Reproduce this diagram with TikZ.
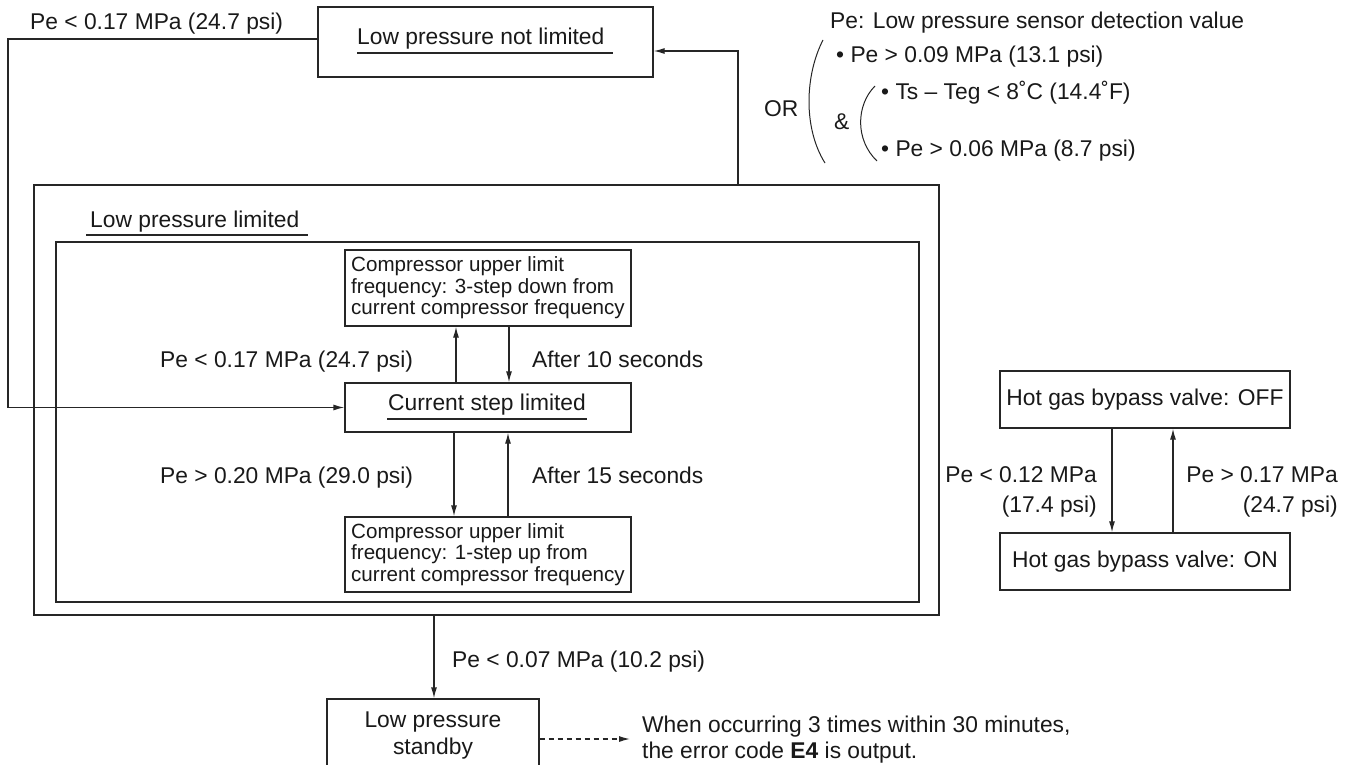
\documentclass[tikz,border=0pt]{standalone}
\usepackage{fontspec}
\setmainfont{Liberation Sans}
\usetikzlibrary{arrows.meta,calc}
\newcommand\szA{\fontsize{22.8}{27}\selectfont}
\newcommand\szB{\fontsize{20.6}{21.5}\selectfont}
\newcommand\szE{\fontsize{22.8}{26}\selectfont}
\newcommand\szF{\fontsize{22.8}{30}\selectfont}
\begin{document}
\begin{tikzpicture}[x=1pt,y=-1pt,
  lw/.style={line width=1.3pt, draw=black!85},
  box/.style={lw, rectangle, inner sep=0pt, text=black!90},
  txt/.style={inner sep=0pt, font=\szA, text=black!90},
  arr/.style={lw, -{Latex[length=11pt,width=6pt]}},
  ul/.style={line width=1.2pt, draw=black!85},
  brk/.style={line width=1pt, draw=black!85},
]
\useasboundingbox (0,0) rectangle (1355,765);
\clip (0,0) rectangle (1355,765);

% boxes
\node[box, minimum width=335pt, minimum height=70pt] (nl) at (485.5,42) {};
\node[txt, anchor=base west] (nlt) at (357,45) {Low pressure not limited};
\draw[ul] ($(nlt.base west)+(0,8)$) -- ($(nlt.base east)+(8,8)$);

\node[box, minimum width=905pt, minimum height=430pt] (outer) at (486.5,400) {};
\node[box, minimum width=863pt, minimum height=360pt] (inner) at (487.5,422) {};
\node[txt, anchor=base west] (lplt) at (90,227) {Low pressure limited};
\draw[ul] ($(lplt.base west)+(-4,8)$) -- ($(lplt.base east)+(9,8)$);

\node[box, minimum width=286pt, minimum height=76pt, align=left, font=\szB] (top) at (488,288)
  {Compressor upper limit\\frequency: 3-step down from\\current compressor frequency};
\node[box, minimum width=286pt, minimum height=49pt] (cur) at (488,407.5) {};
\node[txt, anchor=base west] (curt) at (388,410) {Current step limited};
\draw[ul] ($(curt.base west)+(-1,9)$) -- ($(curt.base east)+(1,9)$);
\node[box, minimum width=286pt, minimum height=75pt, align=left, font=\szB] (bot) at (488,554.5)
  {Compressor upper limit\\frequency: 1-step up from\\current compressor frequency};

\node[box, minimum width=290pt, minimum height=57pt, font=\szA] (off) at (1145,399.5) {Hot gas bypass valve: OFF};
\node[box, minimum width=290pt, minimum height=57pt, font=\szA] (on) at (1145,561.5) {Hot gas bypass valve: ON};

\node[box, minimum width=212pt, minimum height=73pt, align=center, font=\szA] (sb) at (433,735.5) {Low pressure\\standby};

% connector x positions
\coordinate (xa) at (456,0);
\coordinate (xb) at (509,0);
\coordinate (xc) at (454,0);
\coordinate (xd) at (508,0);
\coordinate (xe) at (434,0);
\coordinate (xf) at (738,0);
\coordinate (xg) at (1112,0);
\coordinate (xh) at (1173,0);
\coordinate (lp) at (8,407.5);
\coordinate (de) at (630,739);

% connectors
\draw[arr] (cur.north -| xa) -- (top.south -| xa);
\draw[arr] (top.south -| xb) -- (cur.north -| xb);
\draw[arr] (cur.south -| xc) -- (bot.north -| xc);
\draw[arr] (bot.north -| xd) -- (cur.south -| xd);
\draw[arr] (outer.south -| xe) -- (sb.north -| xe);
\draw[arr] (outer.north -| xf) |- ([yshift=-9pt]nl.east);
\draw[arr] ([yshift=3pt]nl.west) -| (lp) -- (cur.west);
\draw[arr] (off.south -| xg) -- (on.north -| xg);
\draw[arr] (on.north -| xh) -- (off.south -| xh);
\draw[arr, dash pattern=on 5pt off 4pt] (sb.east |- de) -- (de);

% labels
\node[txt, anchor=base west] (l1) at (30,30) {Pe < 0.17 MPa (24.7 psi)};
\node[txt, anchor=base west] (l2) at (160,367) {Pe < 0.17 MPa (24.7 psi)};
\node[txt, anchor=base west] (l3) at (532,367) {After 10 seconds};
\node[txt, anchor=base west] (l4) at (160,483) {Pe > 0.20 MPa (29.0 psi)};
\node[txt, anchor=base west] (l5) at (532,483) {After 15 seconds};
\node[txt, anchor=base west] (l6) at (452,667) {Pe < 0.07 MPa (10.2 psi)};
\node[txt, anchor=north east, align=right, font=\szF] (l7) at (1097,466.7) {Pe < 0.12 MPa\\(17.4 psi)};
\node[txt, anchor=north east, align=right, font=\szF] (l8) at (1338,466.7) {Pe > 0.17 MPa\\(24.7 psi)};

% conditions
\node[txt, anchor=base west] (c0) at (830,29) {Pe: Low pressure sensor detection value};
\node[txt, anchor=base west] (c1) at (836,63) {• Pe > 0.09 MPa (13.1 psi)};
\node[txt, anchor=base west] (c2) at (881,100) {• Ts – Teg < 8˚C (14.4˚F)};
\node[txt, anchor=base west] (c3) at (881,157) {• Pe > 0.06 MPa (8.7 psi)};
\node[txt, anchor=base west] (cor) at (764,117) {OR};
\node[txt, anchor=base west] (cand) at (834,130) {\&};
\draw[brk] (823,40) .. controls (805,75) and (803,128) .. (825,163);
\draw[brk] (875,86) .. controls (856,105) and (855,140) .. (877,161);

% note
\node[txt, anchor=north west, align=left, font=\szE] (note) at (642,715.7)
  {When occurring 3 times within 30 minutes,\\the error code \textbf{E4} is output.};
\end{tikzpicture}
\end{document}
